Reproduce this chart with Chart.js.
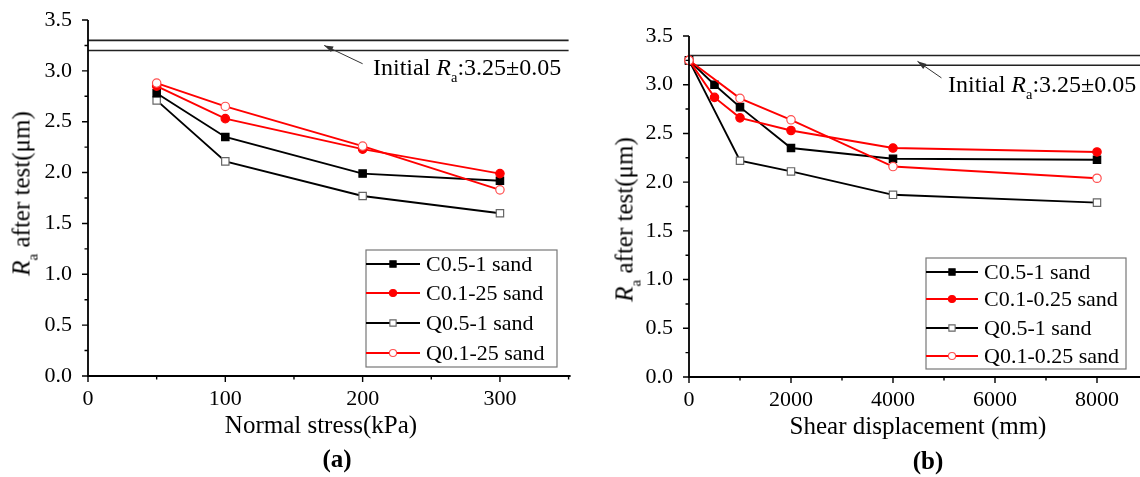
<!DOCTYPE html>
<html>
<head>
<meta charset="utf-8">
<script src="https://cdn.jsdelivr.net/npm/chart.js@4.4.1/dist/chart.umd.min.js"></script>
<style>
  html, body { margin: 0; padding: 0; background: #fff; overflow: hidden; }
  body { width: 1140px; height: 477px; position: relative; font-family: 'Liberation Serif', 'Times New Roman', serif; color: #000; }
  .wrap { position: absolute; top: 0; }
  .txt { position: absolute; white-space: nowrap; line-height: 1; }
  .title { font-size: 25px; text-align: center; width: 300px; }
  .panel { font-size: 25px; font-weight: bold; text-align: center; width: 60px; }
  .note { font-size: 24px; }
  .ytitle { font-size: 25px; width: 220px; height: 25px; text-align: center; transform: rotate(-90deg); }
  sub { font-size: 0.6em; vertical-align: -0.5em; line-height: 0; }
</style>
</head>
<body>
<div class="wrap" style="left:0;width:575px;height:477px;"><canvas id="chartA" width="575" height="477"></canvas></div>
<div class="wrap" style="left:580px;width:600px;height:477px;"><canvas id="chartB" width="600" height="477"></canvas></div>

<div class="txt ytitle" style="left:-89px;top:181px;"><i>R</i><sub>a</sub> after test(μm)</div>
<div class="txt ytitle" style="left:514px;top:207px;"><i>R</i><sub>a</sub> after test(μm)</div>
<div class="txt title" style="left:171px;top:412px;">Normal stress(kPa)</div>
<div class="txt title" style="left:768px;top:413px;">Shear displacement (mm)</div>
<div class="txt panel" style="left:307px;top:446px;">(a)</div>
<div class="txt panel" style="left:898px;top:448px;">(b)</div>
<div class="txt note" style="left:373px;top:55px;">Initial <i>R</i><sub>a</sub>:3.25±0.05</div>
<div class="txt note" style="left:948px;top:72px;">Initial <i>R</i><sub>a</sub>:3.25±0.05</div>

<script>
// panel (a): Ra after test vs normal stress
const normalStress = [50, 100, 200, 300];
const raC051A = [2.78, 2.35, 1.99, 1.92];
const raC01A = [2.85, 2.53, 2.23, 1.99];
const raQ051A = [2.71, 2.11, 1.77, 1.60];
const raQ01A = [2.88, 2.65, 2.26, 1.83];
const labelsA = ['C0.5-1 sand', 'C0.1-25 sand', 'Q0.5-1 sand', 'Q0.1-25 sand'];

// panel (b): Ra after test vs shear displacement
const shearC = [0, 500, 1000, 2000, 4000, 8000];
const raC051B = [3.25, 3.00, 2.77, 2.35, 2.24, 2.23];
const raC01B = [3.25, 2.87, 2.66, 2.53, 2.35, 2.31];
const shearQ = [0, 1000, 2000, 4000, 8000];
const raQ051B = [3.25, 2.22, 2.11, 1.87, 1.79];
const raQ01B = [3.25, 2.86, 2.64, 2.16, 2.04];
const labelsB = ['C0.5-1 sand', 'C0.1-0.25 sand', 'Q0.5-1 sand', 'Q0.1-0.25 sand'];

// initial roughness band 3.25 +/- 0.05
const initialBand = [3.2, 3.3];

// tick labels
const yTicks = [0, 0.5, 1.0, 1.5, 2.0, 2.5, 3.0, 3.5];
const yMinor = [0.25, 0.75, 1.25, 1.75, 2.25, 2.75, 3.25];
const xTicksA = [0, 100, 200, 300];
const xMinorA = [50, 150, 250, 350];
const xTicksB = [0, 2000, 4000, 6000, 8000];
const xMinorB = [1000, 3000, 5000, 7000, 9000];

// arrows pointing at the band (data units)
const arrowA = [[200, 3.07], [172, 3.25]];
const arrowB = [[4950, 3.07], [4480, 3.24]];

Chart.defaults.font.family = "'Liberation Serif', 'Times New Roman', serif";
Chart.defaults.color = '#000';

const styles = [
  { line: '#000', fill: '#000', border: '#000', shape: 'rect', r: 5.2, order: 2 },
  { line: '#ff0000', fill: '#ff0000', border: '#ff0000', shape: 'circle', r: 4.2, order: 1 },
  { line: '#000', fill: '#fff', border: '#666', shape: 'rect', r: 5.2, order: 3 },
  { line: '#ff0000', fill: '#fff', border: '#ff5050', shape: 'circle', r: 4.2, order: 0 }
];

function series(label, xs, ys, st) {
  return {
    label: label,
    data: xs.map((x, i) => ({ x: x, y: ys[i] })),
    showLine: true,
    borderColor: st.line,
    borderWidth: 1.9,
    pointStyle: st.shape,
    pointRadius: st.r,
    pointBackgroundColor: st.fill,
    pointBorderColor: st.border,
    pointBorderWidth: 1.2,
    clip: false,
    order: st.order
  };
}

function bandLine(v, xmax) {
  return {
    label: '',
    isRef: true,
    data: [{ x: 0, y: v }, { x: xmax, y: v }],
    showLine: true,
    borderColor: '#222',
    borderWidth: 1.6,
    pointRadius: 0,
    clip: false,
    order: 5
  };
}

// axes, ticks, legend box and arrow
function decor(cfg) {
  return {
    id: 'decor',
    afterDraw(chart) {
      const ctx = chart.ctx;
      const xs = chart.scales.x, ys = chart.scales.y;
      const a = chart.chartArea;
      ctx.save();
      ctx.strokeStyle = '#000';
      ctx.lineWidth = 1.8;
      ctx.beginPath();
      ctx.moveTo(a.left, a.top);
      ctx.lineTo(a.left, a.bottom);
      ctx.lineTo(a.right + 2, a.bottom);
      ctx.stroke();
      ctx.lineWidth = 1.4;
      ctx.beginPath();
      cfg.xMajor.forEach(v => { const p = xs.getPixelForValue(v); ctx.moveTo(p, a.bottom); ctx.lineTo(p, a.bottom + 6); });
      cfg.xMinor.forEach(v => { const p = xs.getPixelForValue(v); ctx.moveTo(p, a.bottom); ctx.lineTo(p, a.bottom + 3.5); });
      cfg.yMajor.forEach(v => { const p = ys.getPixelForValue(v); ctx.moveTo(a.left, p); ctx.lineTo(a.left - 6, p); });
      cfg.yMinor.forEach(v => { const p = ys.getPixelForValue(v); ctx.moveTo(a.left, p); ctx.lineTo(a.left - 3.5, p); });
      ctx.stroke();

      // arrow
      const x1 = xs.getPixelForValue(cfg.arrow[0][0]), y1 = ys.getPixelForValue(cfg.arrow[0][1]);
      const x2 = xs.getPixelForValue(cfg.arrow[1][0]), y2 = ys.getPixelForValue(cfg.arrow[1][1]);
      const ang = Math.atan2(y2 - y1, x2 - x1);
      ctx.strokeStyle = '#333';
      ctx.fillStyle = '#333';
      ctx.lineWidth = 1;
      ctx.beginPath();
      ctx.moveTo(x1, y1);
      ctx.lineTo(x2, y2);
      ctx.stroke();
      ctx.beginPath();
      ctx.moveTo(x2, y2);
      ctx.lineTo(x2 - 9 * Math.cos(ang) + 3 * Math.sin(ang), y2 - 9 * Math.sin(ang) - 3 * Math.cos(ang));
      ctx.lineTo(x2 - 9 * Math.cos(ang) - 3 * Math.sin(ang), y2 - 9 * Math.sin(ang) + 3 * Math.cos(ang));
      ctx.closePath();
      ctx.fill();

      // legend
      const lg = cfg.legend;
      ctx.strokeStyle = '#777';
      ctx.lineWidth = 1.2;
      ctx.strokeRect(lg.x, lg.y, lg.w, lg.h);
      const items = chart.data.datasets.filter(d => !d.isRef);
      ctx.font = '22px ' + Chart.defaults.font.family;
      ctx.textBaseline = 'middle';
      items.forEach((d, i) => {
        const y = lg.rows[i];
        ctx.strokeStyle = d.borderColor;
        ctx.lineWidth = 1.9;
        ctx.beginPath();
        ctx.moveTo(lg.x, y);
        ctx.lineTo(lg.x + lg.sample, y);
        ctx.stroke();
        const cx = lg.x + lg.sample / 2;
        const r = d.pointRadius * 0.85;
        ctx.fillStyle = d.pointBackgroundColor;
        ctx.strokeStyle = d.pointBorderColor;
        ctx.lineWidth = 1.1;
        ctx.beginPath();
        if (d.pointStyle === 'rect') {
          const s = r * Math.SQRT1_2;
          ctx.rect(cx - s, y - s, 2 * s, 2 * s);
        } else {
          ctx.arc(cx, y, r, 0, Math.PI * 2);
        }
        ctx.fill();
        ctx.stroke();
        ctx.fillStyle = '#000';
        ctx.fillText(d.label, lg.x + lg.sample + 6, y + 1);
      });
      ctx.restore();
    }
  };
}

function makeChart(id, datasets, xMax, xMajor, pad, xHeight, yWidth, extra) {
  return new Chart(document.getElementById(id), {
    type: 'scatter',
    data: { datasets: datasets },
    options: {
      responsive: false,
      animation: false,
      events: [],
      layout: { padding: pad },
      plugins: { legend: { display: false }, tooltip: { enabled: false } },
      scales: {
        x: {
          type: 'linear',
          min: 0,
          max: xMax,
          grid: { display: false, drawTicks: false },
          border: { display: false },
          ticks: { font: { size: 22 }, padding: 10, color: '#000', maxRotation: 0, callback: v => String(v) },
          afterBuildTicks: s => { s.ticks = xMajor.map(v => ({ value: v })); },
          afterFit: s => { s.height = xHeight; s.paddingLeft = 0; s.paddingRight = 0; }
        },
        y: {
          type: 'linear',
          min: 0,
          max: 3.5,
          grid: { display: false, drawTicks: false },
          border: { display: false },
          ticks: { font: { size: 22 }, padding: 16, color: '#000', callback: v => Number(v).toFixed(1) },
          afterBuildTicks: s => { s.ticks = yTicks.map(v => ({ value: v })); },
          afterFit: s => { s.width = yWidth; s.paddingTop = 0; s.paddingBottom = 0; }
        }
      }
    },
    plugins: [decor(extra)]
  });
}

const dsA = [
  series(labelsA[0], normalStress, raC051A, styles[0]),
  series(labelsA[1], normalStress, raC01A, styles[1]),
  series(labelsA[2], normalStress, raQ051A, styles[2]),
  series(labelsA[3], normalStress, raQ01A, styles[3]),
  bandLine(initialBand[0], 350),
  bandLine(initialBand[1], 350)
];

const dsB = [
  series(labelsB[0], shearC, raC051B, styles[0]),
  series(labelsB[1], shearC, raC01B, styles[1]),
  series(labelsB[2], shearQ, raQ051B, styles[2]),
  series(labelsB[3], shearQ, raQ01B, styles[3]),
  bandLine(initialBand[0], 9000),
  bandLine(initialBand[1], 9000)
];

makeChart('chartA', dsA, 350, xTicksA, { top: 20, right: 6, left: 0, bottom: 0 }, 101, 88, {
  xMajor: xTicksA, xMinor: xMinorA, yMajor: yTicks, yMinor: yMinor, arrow: arrowA,
  legend: { x: 366, y: 250, w: 191, h: 117, sample: 54, rows: [264, 293, 323, 353] }
});

makeChart('chartB', dsB, 9000, xTicksB, { top: 36, right: 32, left: 0, bottom: 0 }, 100, 109, {
  xMajor: xTicksB, xMinor: xMinorB, yMajor: yTicks, yMinor: yMinor, arrow: arrowB,
  legend: { x: 346, y: 258, w: 200, h: 111, sample: 52, rows: [272, 299, 328, 356] }
});
</script>
</body>
</html>
